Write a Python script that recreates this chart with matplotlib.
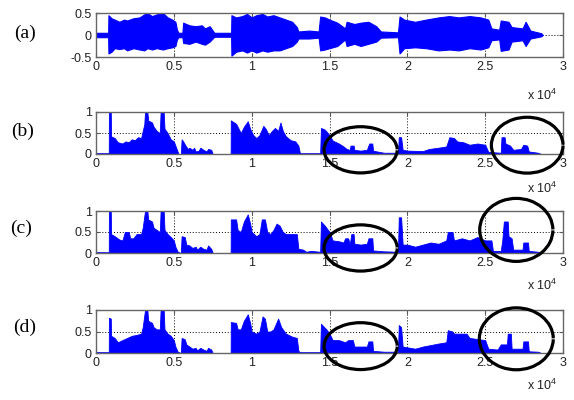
import numpy as np
import matplotlib
matplotlib.use("Agg")
import matplotlib.pyplot as plt
from matplotlib.patches import Arc

# x positions are in units of 1e4 samples
# (a) speech waveform envelope: x, upper, lower
wave_env = [
    (0.0, 0.05, -0.05), (0.078, 0.05, -0.05), (0.08, 0.45, -0.42), (0.1, 0.38, -0.38),
    (0.12, 0.35, -0.3), (0.15, 0.3, -0.32), (0.18, 0.35, -0.3), (0.2, 0.33, -0.35),
    (0.24, 0.38, -0.3), (0.28, 0.4, -0.33), (0.31, 0.47, -0.35), (0.33, 0.5, -0.3),
    (0.36, 0.43, -0.33), (0.39, 0.47, -0.3), (0.43, 0.5, -0.33), (0.46, 0.4, -0.3),
    (0.49, 0.35, -0.28), (0.51, 0.3, -0.25), (0.52, 0.12, -0.1), (0.53, 0.05, -0.05),
    (0.555, 0.05, -0.05), (0.56, 0.28, -0.18), (0.6, 0.22, -0.2), (0.64, 0.2, -0.15),
    (0.68, 0.22, -0.2), (0.7, 0.15, -0.22), (0.73, 0.2, -0.15), (0.76, 0.05, -0.04),
    (0.868, 0.05, -0.04), (0.87, 0.45, -0.47), (0.9, 0.4, -0.38), (0.94, 0.43, -0.35),
    (0.97, 0.48, -0.4), (1.0, 0.4, -0.35), (1.03, 0.45, -0.4), (1.07, 0.48, -0.35),
    (1.1, 0.42, -0.38), (1.14, 0.45, -0.35), (1.18, 0.4, -0.35), (1.22, 0.35, -0.3),
    (1.26, 0.3, -0.25), (1.29, 0.18, -0.15), (1.3, 0.08, -0.08), (1.37, 0.1, -0.08),
    (1.43, 0.08, -0.06), (1.44, 0.42, -0.35), (1.47, 0.4, -0.33), (1.5, 0.35, -0.3),
    (1.55, 0.28, -0.25), (1.6, 0.15, -0.1), (1.61, 0.3, -0.25), (1.66, 0.25, -0.2),
    (1.7, 0.28, -0.25), (1.75, 0.3, -0.2), (1.8, 0.2, -0.15), (1.83, 0.08, -0.06),
    (1.94, 0.06, -0.05), (1.95, 0.42, -0.42), (1.98, 0.35, -0.3), (2.05, 0.3, -0.28),
    (2.12, 0.35, -0.3), (2.2, 0.4, -0.35), (2.27, 0.43, -0.33), (2.33, 0.4, -0.35),
    (2.4, 0.43, -0.3), (2.47, 0.4, -0.33), (2.52, 0.35, -0.28), (2.54, 0.15, -0.12),
    (2.59, 0.12, -0.1), (2.6, 0.33, -0.36), (2.65, 0.3, -0.33), (2.67, 0.18, -0.15),
    (2.74, 0.15, -0.12), (2.76, 0.3, -0.25), (2.79, 0.1, -0.08), (2.86, 0.04, -0.03),
    (2.87, 0.0, 0.0),
]

# (b) energy profile
curve_b = [
    (0, 0.02), (0.082, 0.02), (0.083, 1.0), (0.095, 1.0), (0.097, 0.42), (0.12, 0.38),
    (0.14, 0.28), (0.17, 0.25), (0.19, 0.3), (0.21, 0.28), (0.23, 0.35), (0.25, 0.33),
    (0.27, 0.4), (0.29, 0.38), (0.3, 0.55), (0.31, 0.7), (0.315, 1.0), (0.33, 1.0),
    (0.335, 0.8), (0.36, 0.75), (0.37, 0.65), (0.39, 0.55), (0.41, 0.5), (0.415, 1.0),
    (0.435, 1.0), (0.44, 0.6), (0.46, 0.5), (0.48, 0.35), (0.5, 0.3), (0.51, 0.2),
    (0.525, 0.05), (0.53, 0.0), (0.545, 0.0), (0.55, 0.35), (0.56, 0.3), (0.575, 0.2),
    (0.59, 0.12), (0.6, 0.15), (0.62, 0.1), (0.63, 0.15), (0.64, 0.06), (0.66, 0.08),
    (0.67, 0.15), (0.69, 0.1), (0.71, 0.06), (0.72, 0.12), (0.74, 0.1), (0.75, 0.0),
    (0.865, 0.0), (0.866, 0.8), (0.9, 0.72), (0.93, 0.5), (0.95, 0.65), (0.975, 0.78),
    (0.99, 0.6), (1.01, 0.45), (1.03, 0.38), (1.05, 0.45), (1.075, 0.67), (1.09, 0.6),
    (1.11, 0.45), (1.13, 0.55), (1.15, 0.62), (1.17, 0.55), (1.185, 0.75), (1.2, 0.55),
    (1.22, 0.42), (1.25, 0.33), (1.28, 0.3), (1.3, 0.2), (1.31, 0.02), (1.44, 0.02),
    (1.445, 0.62), (1.47, 0.58), (1.5, 0.45), (1.52, 0.32), (1.56, 0.25), (1.59, 0.18),
    (1.61, 0.12), (1.63, 0.1), (1.635, 0.2), (1.655, 0.2), (1.66, 0.1), (1.7, 0.08),
    (1.74, 0.1), (1.755, 0.25), (1.775, 0.25), (1.78, 0.08), (1.82, 0.05), (1.85, 0.03),
    (1.94, 0.03), (1.945, 0.4), (1.96, 0.4), (1.97, 0.1), (2.0, 0.08), (2.1, 0.07),
    (2.14, 0.12), (2.2, 0.15), (2.25, 0.18), (2.27, 0.4), (2.3, 0.38), (2.32, 0.3),
    (2.36, 0.28), (2.4, 0.22), (2.45, 0.25), (2.5, 0.22), (2.52, 0.05), (2.6, 0.03),
    (2.605, 0.4), (2.625, 0.4), (2.63, 0.25), (2.66, 0.2), (2.68, 0.1), (2.73, 0.12),
    (2.745, 0.22), (2.77, 0.2), (2.78, 0.06), (2.84, 0.03), (2.86, 0.0), (3.0, 0.0),
]

# (c)
curve_c = [
    (0, 0.02), (0.082, 0.02), (0.083, 1.0), (0.095, 1.0), (0.097, 0.45), (0.12, 0.4),
    (0.15, 0.32), (0.17, 0.3), (0.185, 0.5), (0.21, 0.5), (0.22, 0.35), (0.24, 0.35),
    (0.26, 0.45), (0.29, 0.45), (0.3, 0.6), (0.315, 1.0), (0.33, 1.0), (0.335, 0.8),
    (0.36, 0.75), (0.37, 0.6), (0.39, 0.55), (0.41, 0.5), (0.415, 1.0), (0.435, 1.0),
    (0.44, 0.55), (0.46, 0.45), (0.48, 0.38), (0.5, 0.3), (0.51, 0.15), (0.525, 0.03),
    (0.545, 0.0), (0.55, 0.4), (0.57, 0.38), (0.58, 0.2), (0.6, 0.18), (0.62, 0.12),
    (0.64, 0.15), (0.65, 0.08), (0.67, 0.15), (0.69, 0.1), (0.71, 0.08), (0.72, 0.18),
    (0.74, 0.1), (0.75, 0.0), (0.865, 0.0), (0.866, 0.8), (0.9, 0.8), (0.91, 0.55),
    (0.93, 0.5), (0.95, 0.75), (0.975, 0.92), (0.99, 0.7), (1.0, 0.5), (1.03, 0.4),
    (1.05, 0.45), (1.065, 0.8), (1.085, 0.8), (1.1, 0.5), (1.12, 0.45), (1.14, 0.55),
    (1.16, 0.7), (1.18, 0.65), (1.2, 0.5), (1.22, 0.45), (1.29, 0.45), (1.3, 0.1),
    (1.33, 0.08), (1.35, 0.03), (1.38, 0.05), (1.44, 0.03), (1.445, 0.75), (1.47, 0.65),
    (1.5, 0.5), (1.52, 0.3), (1.56, 0.28), (1.59, 0.25), (1.6, 0.35), (1.62, 0.35),
    (1.63, 0.2), (1.64, 0.45), (1.655, 0.45), (1.66, 0.22), (1.7, 0.2), (1.74, 0.22),
    (1.75, 0.35), (1.775, 0.35), (1.78, 0.06), (1.85, 0.04), (1.94, 0.03), (1.945, 0.85),
    (1.96, 0.85), (1.97, 0.2), (2.0, 0.2), (2.05, 0.15), (2.1, 0.2), (2.15, 0.25),
    (2.2, 0.22), (2.25, 0.3), (2.26, 0.5), (2.29, 0.5), (2.3, 0.3), (2.35, 0.35),
    (2.4, 0.3), (2.45, 0.38), (2.5, 0.3), (2.54, 0.3), (2.55, 0.05), (2.6, 0.05),
    (2.61, 0.3), (2.62, 0.75), (2.645, 0.75), (2.65, 0.4), (2.67, 0.35), (2.68, 0.08),
    (2.74, 0.08), (2.745, 0.25), (2.775, 0.25), (2.78, 0.05), (2.84, 0.03), (2.86, 0.0),
    (3.0, 0.0),
]

# (d)
curve_d = [
    (0, 0.02), (0.082, 0.02), (0.083, 0.82), (0.095, 0.8), (0.097, 0.4), (0.12, 0.35),
    (0.14, 0.25), (0.17, 0.3), (0.2, 0.35), (0.23, 0.4), (0.26, 0.42), (0.29, 0.45),
    (0.3, 0.6), (0.315, 1.0), (0.33, 1.0), (0.335, 0.75), (0.36, 0.7), (0.37, 0.6),
    (0.39, 0.55), (0.41, 0.55), (0.415, 1.0), (0.435, 1.0), (0.44, 0.55), (0.46, 0.45),
    (0.48, 0.4), (0.5, 0.3), (0.51, 0.15), (0.525, 0.03), (0.545, 0.0), (0.55, 0.35),
    (0.57, 0.32), (0.58, 0.2), (0.6, 0.15), (0.62, 0.1), (0.64, 0.12), (0.65, 0.06),
    (0.67, 0.12), (0.69, 0.08), (0.71, 0.05), (0.72, 0.12), (0.74, 0.08), (0.75, 0.0),
    (0.865, 0.0), (0.866, 0.72), (0.9, 0.7), (0.91, 0.55), (0.93, 0.55), (0.95, 0.75),
    (0.975, 0.9), (0.99, 0.7), (1.0, 0.5), (1.03, 0.45), (1.05, 0.5), (1.07, 0.85),
    (1.085, 0.8), (1.1, 0.5), (1.12, 0.5), (1.14, 0.55), (1.17, 0.8), (1.19, 0.6),
    (1.22, 0.45), (1.26, 0.38), (1.29, 0.35), (1.3, 0.05), (1.31, 0.02), (1.44, 0.02),
    (1.445, 0.68), (1.48, 0.55), (1.5, 0.45), (1.52, 0.3), (1.56, 0.3), (1.6, 0.25),
    (1.62, 0.3), (1.65, 0.3), (1.66, 0.15), (1.74, 0.15), (1.75, 0.27), (1.775, 0.27),
    (1.78, 0.05), (1.85, 0.03), (1.94, 0.03), (1.945, 0.65), (1.96, 0.6), (1.97, 0.15),
    (2.05, 0.1), (2.1, 0.15), (2.2, 0.22), (2.25, 0.25), (2.26, 0.53), (2.29, 0.5),
    (2.3, 0.45), (2.38, 0.45), (2.4, 0.35), (2.5, 0.3), (2.52, 0.1), (2.58, 0.08),
    (2.6, 0.2), (2.64, 0.2), (2.645, 0.45), (2.665, 0.45), (2.67, 0.1), (2.74, 0.1),
    (2.745, 0.27), (2.775, 0.27), (2.78, 0.04), (2.84, 0.03), (2.86, 0.0), (3.0, 0.0),
]

panel_labels = ['(a)', '(b)', '(c)', '(d)']
x_ticks = [0, 0.5, 1, 1.5, 2, 2.5, 3]
x_tick_labels = ['0', '0.5', '1', '1.5', '2', '2.5', '3']

# ellipse marks: (x centre, y centre, width, height) in each panel's data units (x in 1e4)
ellipses = {
    1: [(1.70, 0.10, 0.47, 1.10), (2.77, 0.21, 0.46, 1.33)],
    2: [(1.70, 0.12, 0.47, 1.10), (2.70, 0.55, 0.47, 1.50)],
    3: [(1.70, 0.16, 0.47, 1.09), (2.70, 0.33, 0.475, 1.44)],
}

BLUE = '#0000ff'
W, H = 574, 400
plt.rcParams['font.family'] = 'Liberation Sans'
plt.rcParams['mathtext.fontset'] = 'custom'
plt.rcParams['mathtext.rm'] = 'Liberation Sans'
fig = plt.figure(figsize=(W / 100, H / 100), dpi=100)

# axes boxes in pixels: (left, top, right, bottom)
boxes = [(96, 13, 563, 57), (96, 112, 563, 154), (96, 211, 563, 253), (96, 310, 563, 353)]
label_pos = [(25, 33), (23, 131), (21, 228), (25, 327)]
exp_pos = [100, 193, 290, 390]

for i, (l, t, r, b) in enumerate(boxes):
    ax = fig.add_axes([l / W, 1 - b / H, (r - l) / W, (b - t) / H])
    ax.set_axisbelow(True)

    if i == 0:
        env = np.array(wave_env)
        ax.fill_between(env[:, 0] * 1e4, env[:, 2], env[:, 1], color=BLUE, lw=0.8)
        ax.set_ylim(-0.5, 0.5)
        ax.set_yticks([-0.5, 0, 0.5])
        ax.set_yticklabels(['-0.5', '0', '0.5'])
    else:
        cur = np.array([curve_b, curve_c, curve_d][i - 1])
        ax.fill_between(cur[:, 0] * 1e4, 0, cur[:, 1], color=BLUE, lw=0.6)
        ax.set_ylim(0, 1)
        ax.set_yticks([0, 0.5, 1])
        ax.set_yticklabels(['0', '0.5', '1'])
        for (cx, cy, ew, eh) in ellipses[i]:
            # axes-fraction coordinates keep the arc geometry well conditioned
            arc = Arc((cx / 3, cy), ew / 3, eh, theta1=8, theta2=352,
                      transform=ax.transAxes, color='black', lw=2.3,
                      clip_on=False, zorder=5)
            ax.add_patch(arc)

    ax.set_xlim(0, 3e4)
    ax.set_xticks([v * 1e4 for v in x_ticks])
    ax.set_xticklabels(x_tick_labels)
    ax.grid(True, color='black', linestyle=(0, (1, 2)), linewidth=0.7)
    ax.tick_params(direction='in', length=3, top=True, right=True,
                   labelsize=9, labelcolor='#222222', color='#555555', pad=3)
    for sp in ax.spines.values():
        sp.set_color('#666666')
        sp.set_linewidth(1.0)

    fig.text(label_pos[i][0] / W, 1 - label_pos[i][1] / H, panel_labels[i],
             family='Liberation Serif', fontsize=14, ha='center', va='center')
    fig.text(557 / W, 1 - exp_pos[i] / H, r'x 10$^4$', fontsize=9, color='#222222',
             ha='right', va='baseline')

fig.savefig('out.png', dpi=100)
